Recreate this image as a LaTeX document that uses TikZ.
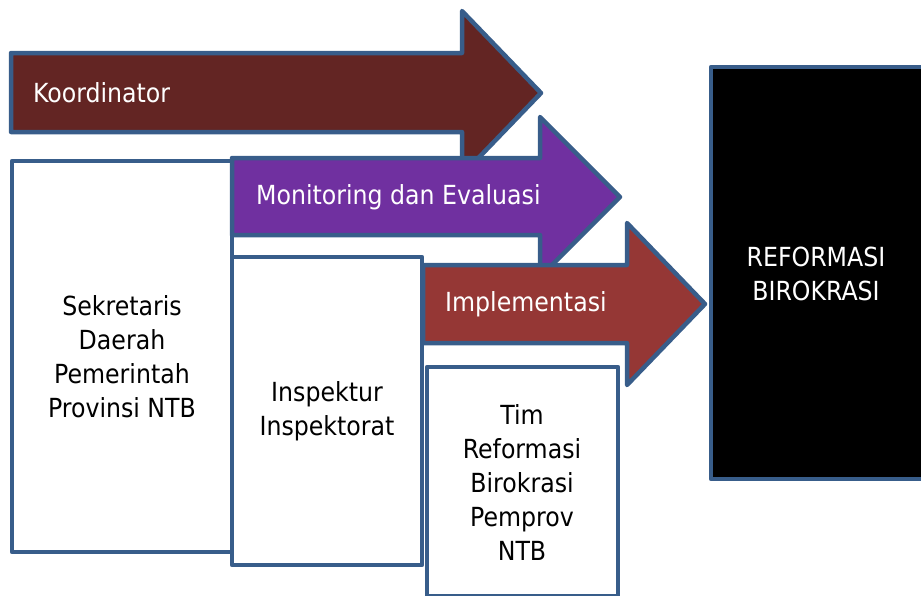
\documentclass[tikz,border=0pt]{standalone}
\usepackage{fontspec}
\setmainfont{DejaVu Sans Condensed}
\begin{document}
\begin{tikzpicture}[x=1pt,y=-1pt,
  edge/.style={draw=edgeblue,line width=4.5pt,line join=round},
  arrowlabel/.style={anchor=west,inner sep=0pt,text=white,font=\fontsize{26.3}{34}\selectfont},
  boxlabel/.style={align=center,inner sep=0pt,font=\fontsize{26.3}{34}\selectfont}]
\definecolor{edgeblue}{HTML}{385D8A}
\definecolor{koord}{HTML}{632523}
\definecolor{monev}{HTML}{7030A0}
\definecolor{impl}{HTML}{953735}
\useasboundingbox (0,0) rectangle (921,595);

% Koordinator arrow
\path[edge,fill=koord] (11,53) -- (462,53) -- (462,11) -- (541,93) -- (462,175) -- (462,132) -- (11,132) -- cycle;
\node[arrowlabel] (koordinator) at (33,93) {Koordinator};

% Sekretaris Daerah box
\path[edge,fill=white] (12,161) rectangle (232,552);
\node[boxlabel] (sekda) at (122,357) {Sekretaris\\Daerah\\Pemerintah\\Provinsi NTB};

% Monitoring dan Evaluasi arrow
\path[edge,fill=monev] (232,158) -- (540,158) -- (540,117) -- (620,197) -- (540,277) -- (540,235) -- (232,235) -- cycle;
\node[arrowlabel] (monev) at (256,197) {Monitoring dan Evaluasi};

% Inspektur box
\path[edge,fill=white] (232,257) rectangle (422,565);
\node[boxlabel] (inspektur) at (327,411) {Inspektur\\Inspektorat};

% Implementasi arrow
\path[edge,fill=impl] (423,265) -- (627,265) -- (627,223) -- (705,304) -- (627,385) -- (627,343) -- (423,343) -- cycle;
\node[arrowlabel] (impl) at (445,304) {Implementasi};

% Tim Reformasi Birokrasi box
\path[edge,fill=white] (427,367) rectangle (618,596);
\node[boxlabel] (tim) at (522,482) {Tim\\Reformasi\\Birokrasi\\Pemprov\\NTB};

% Reformasi Birokrasi target box
\path[edge,fill=black] (711,67) rectangle (930,479);
\node[boxlabel,text=white] (rb) at (816,274) {REFORMASI\\BIROKRASI};
\end{tikzpicture}
\end{document}
